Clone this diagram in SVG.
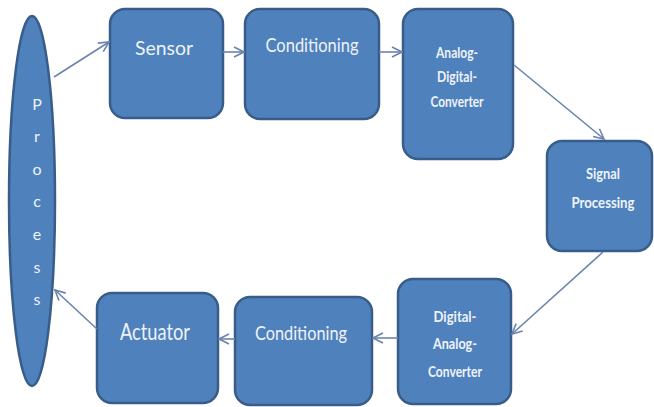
<svg xmlns="http://www.w3.org/2000/svg" width="654" height="407" viewBox="0 0 654 407">
  <defs>
    <marker id="open" viewBox="0 0 12 12" refX="11" refY="6" markerWidth="12" markerHeight="12" markerUnits="userSpaceOnUse" orient="auto">
      <path d="M1,1 L11,6 L1,11" fill="none" stroke="#6a84ad" stroke-width="1.6"/>
    </marker>
  </defs>
  <style>
    .box { fill: #4f81bd; stroke: #385d8a; stroke-width: 2.5; }
    .lbl { fill: #eef3fa; font-family: Lato, "Open Sans", "Liberation Sans", sans-serif; text-anchor: middle; }
    .sm { font-weight: bold; }
    .edge { fill: none; stroke: #6a84ad; stroke-width: 1.6; marker-end: url(#open); }
  </style>
  <rect width="654" height="407" fill="#ffffff"/>

  <g id="process">
    <ellipse class="box" cx="32" cy="201" rx="23" ry="185"/>
    <g class="lbl" font-size="16">
      <text x="37" y="110">P</text>
      <text x="37" y="142">r</text>
      <text x="37" y="175">o</text>
      <text x="37" y="207">c</text>
      <text x="37" y="240">e</text>
      <text x="37" y="273">s</text>
      <text x="37" y="305">s</text>
    </g>
  </g>

  <g id="sensor">
    <rect class="box" x="110" y="9" width="113" height="109" rx="15"/>
    <text class="lbl" x="164" y="55" font-size="20" textLength="58" lengthAdjust="spacingAndGlyphs">Sensor</text>
  </g>

  <g id="conditioning-in">
    <rect class="box" x="245" y="9" width="134" height="110" rx="15"/>
    <text class="lbl" x="312" y="52" font-size="19" textLength="93" lengthAdjust="spacingAndGlyphs">Conditioning</text>
  </g>

  <g id="adc">
    <rect class="box" x="403" y="9" width="110" height="150" rx="15"/>
    <g class="lbl sm" font-size="15">
      <text x="457" y="58" textLength="42" lengthAdjust="spacingAndGlyphs">Analog-</text>
      <text x="457" y="82" textLength="40" lengthAdjust="spacingAndGlyphs">Digital-</text>
      <text x="457" y="107" textLength="53" lengthAdjust="spacingAndGlyphs">Converter</text>
    </g>
  </g>

  <g id="signal-processing">
    <rect class="box" x="547" y="141" width="105" height="110" rx="15"/>
    <g class="lbl sm" font-size="16">
      <text x="603" y="179" textLength="34" lengthAdjust="spacingAndGlyphs">Signal</text>
      <text x="603" y="208" textLength="63" lengthAdjust="spacingAndGlyphs">Processing</text>
    </g>
  </g>

  <g id="dac">
    <rect class="box" x="398" y="279" width="113" height="125" rx="15"/>
    <g class="lbl sm" font-size="16">
      <text x="455" y="322" textLength="43" lengthAdjust="spacingAndGlyphs">Digital-</text>
      <text x="455" y="349" textLength="44" lengthAdjust="spacingAndGlyphs">Analog-</text>
      <text x="455" y="377" textLength="54" lengthAdjust="spacingAndGlyphs">Converter</text>
    </g>
  </g>

  <g id="conditioning-out">
    <rect class="box" x="235" y="297" width="137" height="108" rx="15"/>
    <text class="lbl" x="301" y="340" font-size="20" textLength="92" lengthAdjust="spacingAndGlyphs">Conditioning</text>
  </g>

  <g id="actuator">
    <rect class="box" x="97" y="293" width="121" height="110" rx="15"/>
    <text class="lbl" x="155" y="340" font-size="23" textLength="70" lengthAdjust="spacingAndGlyphs">Actuator</text>
  </g>

  <g id="connectors">
    <line class="edge" x1="54" y1="77" x2="109" y2="42"/>
    <line class="edge" x1="223" y1="52" x2="244" y2="52"/>
    <line class="edge" x1="379" y1="52" x2="402" y2="52"/>
    <line class="edge" x1="514" y1="65" x2="604" y2="139"/>
    <line class="edge" x1="603" y1="252" x2="512" y2="334"/>
    <line class="edge" x1="398" y1="338" x2="373" y2="338"/>
    <line class="edge" x1="235" y1="339" x2="219" y2="339"/>
    <line class="edge" x1="97" y1="329" x2="55" y2="290"/>
  </g>
</svg>
